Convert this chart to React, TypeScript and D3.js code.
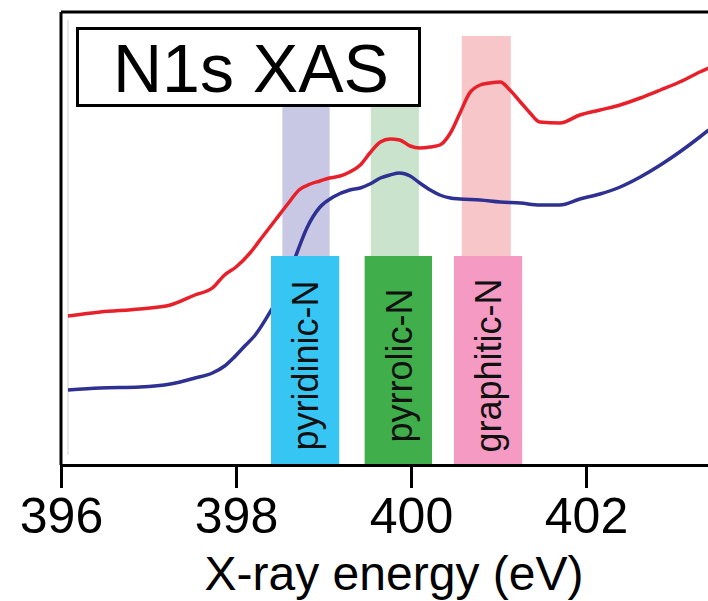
import React, { useEffect, useRef } from 'react';
import * as d3 from 'd3';

// X-ray energy (eV) and absorption (a.u.)
const redEnergy = [396.08, 396.45, 396.9, 397.25, 397.53, 397.73, 397.87, 398.0, 398.16, 398.3, 398.45, 398.6, 398.72, 398.85, 398.96, 399.07, 399.19, 399.3, 399.42, 399.53, 399.65, 399.76, 399.87, 399.99, 400.1, 400.22, 400.33, 400.45, 400.56, 400.67, 400.79, 400.9, 401.02, 401.13, 401.25, 401.36, 401.47, 401.7, 401.93, 402.16, 402.39, 402.62, 402.85, 403.07, 403.3, 403.4];
const redValue = [1.49, 1.53, 1.56, 1.6, 1.7, 1.77, 1.9, 1.98, 2.12, 2.28, 2.45, 2.62, 2.75, 2.81, 2.84, 2.87, 2.89, 2.93, 3.0, 3.12, 3.23, 3.26, 3.25, 3.19, 3.17, 3.18, 3.2, 3.32, 3.52, 3.72, 3.8, 3.82, 3.83, 3.75, 3.63, 3.52, 3.43, 3.42, 3.5, 3.55, 3.6, 3.67, 3.75, 3.83, 3.93, 3.97];

const blueEnergy = [396.08, 396.45, 396.9, 397.25, 397.53, 397.73, 397.87, 397.97, 398.1, 398.22, 398.39, 398.56, 398.7, 398.81, 398.96, 399.11, 399.3, 399.42, 399.53, 399.65, 399.76, 399.87, 399.99, 400.1, 400.22, 400.33, 400.45, 400.56, 400.79, 401.02, 401.25, 401.47, 401.7, 401.93, 402.16, 402.39, 402.62, 402.85, 403.07, 403.3, 403.4];
const blueValue = [0.75, 0.77, 0.78, 0.81, 0.87, 0.92, 0.99, 1.07, 1.19, 1.3, 1.53, 1.8, 2.13, 2.37, 2.58, 2.68, 2.75, 2.77, 2.81, 2.87, 2.9, 2.92, 2.89, 2.82, 2.75, 2.7, 2.67, 2.66, 2.65, 2.63, 2.62, 2.6, 2.6, 2.66, 2.71, 2.78, 2.88, 3.0, 3.13, 3.28, 3.35];

// N species: shaded energy window and label box window
const speciesNames = ['pyridinic-N', 'pyrrolic-N', 'graphitic-N'];
const bandFrom = [398.53, 399.54, 400.58];
const bandTo = [399.07, 400.09, 401.14];
const labelFrom = [398.4, 399.47, 400.49];
const labelTo = [399.18, 400.24, 401.27];
const bandColors = ['#c8c8e4', '#c9e3cc', '#f7c6c9'];
const labelColors = ['#37c6f4', '#40ae4a', '#f49ac3'];

const xTicks = [396, 398, 400, 402];

const App = () => {
  const svgRef = useRef<SVGSVGElement>(null);

  useEffect(() => {
    const width = 708;
    const height = 601;
    const margin = { top: 12, left: 61, bottom: 136 };
    const font = "'Liberation Sans', Arial, sans-serif";

    const svg = d3.select(svgRef.current);
    svg.selectAll('*').remove();

    const x = d3.scaleLinear().domain([396, 403.394]).range([margin.left, width]);
    const y = d3.scaleLinear().domain([0, 4.53]).range([height - margin.bottom, margin.top]);

    const bandTop = 4.29;
    const labelTop = 2.09;

    svg.append('clipPath').attr('id', 'plot-clip')
      .append('rect')
      .attr('x', x(396)).attr('y', y(4.53))
      .attr('width', width - x(396)).attr('height', y(0) - y(4.53));

    // light shaded windows
    speciesNames.forEach((_, i) => {
      svg.append('rect')
        .attr('x', x(bandFrom[i]))
        .attr('y', y(bandTop))
        .attr('width', x(bandTo[i]) - x(bandFrom[i]))
        .attr('height', y(labelTop) - y(bandTop))
        .attr('fill', bandColors[i]);
    });

    // faint inner guide line
    svg.append('line')
      .attr('x1', x(396.08)).attr('x2', x(396.08))
      .attr('y1', y(4.45)).attr('y2', y(0.1))
      .attr('stroke', '#d0d0d0').attr('stroke-width', 1);

    const line = d3.line<[number, number]>()
      .x(d => x(d[0]))
      .y(d => y(d[1]))
      .curve(d3.curveMonotoneX);

    const g = svg.append('g').attr('clip-path', 'url(#plot-clip)');
    g.append('path')
      .attr('d', line(redEnergy.map((e, i) => [e, redValue[i]] as [number, number])))
      .attr('fill', 'none').attr('stroke', '#e8202a').attr('stroke-width', 3.5);
    g.append('path')
      .attr('d', line(blueEnergy.map((e, i) => [e, blueValue[i]] as [number, number])))
      .attr('fill', 'none').attr('stroke', '#2e3192').attr('stroke-width', 3.5);

    // label boxes
    speciesNames.forEach((name, i) => {
      const x0 = x(labelFrom[i]);
      const x1 = x(labelTo[i]);
      svg.append('rect')
        .attr('x', x0).attr('y', y(labelTop))
        .attr('width', x1 - x0).attr('height', y(0) - y(labelTop))
        .attr('fill', labelColors[i]);
      const cy = (y(labelTop) + y(0)) / 2 + 5;
      svg.append('text')
        .attr('transform', `translate(${(x0 + x1) / 2},${cy}) rotate(-90)`)
        .attr('text-anchor', 'middle')
        .attr('dy', '0.37em')
        .attr('font-family', font)
        .attr('font-size', 36)
        .attr('fill', '#111')
        .text(name);
    });

    // title box
    svg.append('rect')
      .attr('x', 77.5).attr('y', 28.5).attr('width', 342).attr('height', 77)
      .attr('fill', '#fff').attr('stroke', '#000').attr('stroke-width', 3);
    svg.append('text')
      .attr('x', 113).attr('y', 92)
      .attr('font-family', font).attr('font-size', 68)
      .attr('fill', '#000')
      .text('N1s XAS');

    // frame: top and left
    svg.append('line')
      .attr('x1', margin.left).attr('x2', width)
      .attr('y1', y(4.53)).attr('y2', y(4.53))
      .attr('stroke', '#000').attr('stroke-width', 3);
    svg.append('line')
      .attr('x1', margin.left).attr('x2', margin.left)
      .attr('y1', y(4.53)).attr('y2', y(0))
      .attr('stroke', '#000').attr('stroke-width', 3);

    const xAxis = svg.append('g')
      .attr('transform', `translate(0,${y(0)})`)
      .call(d3.axisBottom(x).tickValues(xTicks).tickFormat(d3.format('d')).tickSize(23).tickSizeOuter(0).tickPadding(9));
    xAxis.select('.domain').attr('stroke', '#000').attr('stroke-width', 3);
    xAxis.selectAll('.tick line').attr('stroke', '#000').attr('stroke-width', 3);
    xAxis.selectAll('.tick text')
      .attr('font-family', font).attr('font-size', 50).attr('fill', '#000');

    svg.append('text')
      .attr('x', 394).attr('y', 590)
      .attr('text-anchor', 'middle')
      .attr('font-family', font).attr('font-size', 48)
      .attr('fill', '#000')
      .text('X-ray energy (eV)');
  }, []);

  return (
    <svg
      ref={svgRef}
      width={708}
      height={601}
      style={{ position: 'absolute', left: 0, top: 0, background: '#fff' }}
    />
  );
};

export default App;
